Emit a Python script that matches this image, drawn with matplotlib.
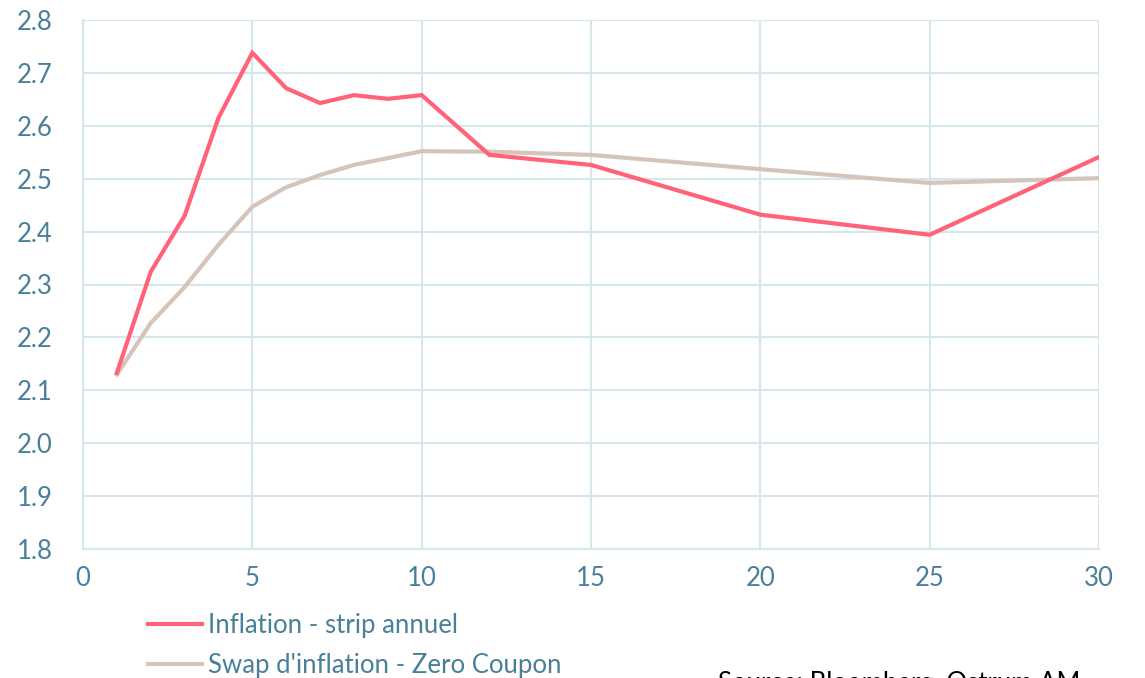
import matplotlib.pyplot as plt
from matplotlib.lines import Line2D

plt.rcParams['font.family'] = ['Lato', 'DejaVu Sans']

maturites = [1, 2, 3, 4, 5, 6, 7, 8, 9, 10, 12, 15, 20, 25, 30]
strip_annuel = [2.133, 2.324, 2.430, 2.615, 2.738, 2.671, 2.643, 2.658, 2.651,
                2.658, 2.545, 2.526, 2.432, 2.394, 2.541]
zero_coupon = [2.130, 2.227, 2.295, 2.375, 2.447, 2.484, 2.507, 2.526, 2.539,
               2.552, 2.551, 2.545, 2.518, 2.492, 2.501]

xticks = [0, 5, 10, 15, 20, 25, 30]
yticks = [1.8, 1.9, 2.0, 2.1, 2.2, 2.3, 2.4, 2.5, 2.6, 2.7, 2.8]

rouge = '#ff6279'
beige = '#d5c4b9'
texte = '#4a7f9a'
grille = '#d6e6ed'

fig = plt.figure(figsize=(11.45, 6.78), dpi=100)
ax = fig.add_axes([83 / 1145, 1 - 549 / 678, (1099 - 83) / 1145, (549 - 20) / 678])

ax.plot(maturites, zero_coupon, color=beige, lw=3, solid_joinstyle='miter')
ax.plot(maturites, strip_annuel, color=rouge, lw=3, solid_joinstyle='miter')

ax.set_xlim(0, 30)
ax.set_ylim(1.8, 2.8)
ax.set_xticks(xticks)
ax.set_yticks(yticks)
ax.set_yticklabels([f'{v:.1f}' for v in yticks])
ax.grid(True, color=grille, lw=1.5)
ax.set_axisbelow(True)
for s in ax.spines.values():
    s.set_visible(False)
for side in ('left', 'bottom'):
    ax.spines[side].set_visible(True)
    ax.spines[side].set_color(grille)
    ax.spines[side].set_linewidth(1.5)
ax.tick_params(length=0, labelsize=18.5, colors=texte, pad=12)
ax.tick_params(axis='y', pad=22)

handles = [Line2D([], [], color=rouge, lw=3),
           Line2D([], [], color=beige, lw=3)]
labels = ['Inflation - strip annuel', "Swap d'inflation - Zero Coupon"]
fig.legend(handles, labels, loc='upper left', bbox_to_anchor=(135 / 1145, 1 - 600 / 678),
           frameon=False, fontsize=18.5, labelcolor=texte, handlelength=2.1,
           handletextpad=0.25, labelspacing=0.6, borderpad=0)

# source line sits at the very bottom edge
fig.text(718 / 1145, 1 - 696 / 678, 'Source: Bloomberg, Ostrum AM', fontsize=18.5,
         color='black', va='bottom', ha='left')

fig.savefig('out.png', dpi=100)
